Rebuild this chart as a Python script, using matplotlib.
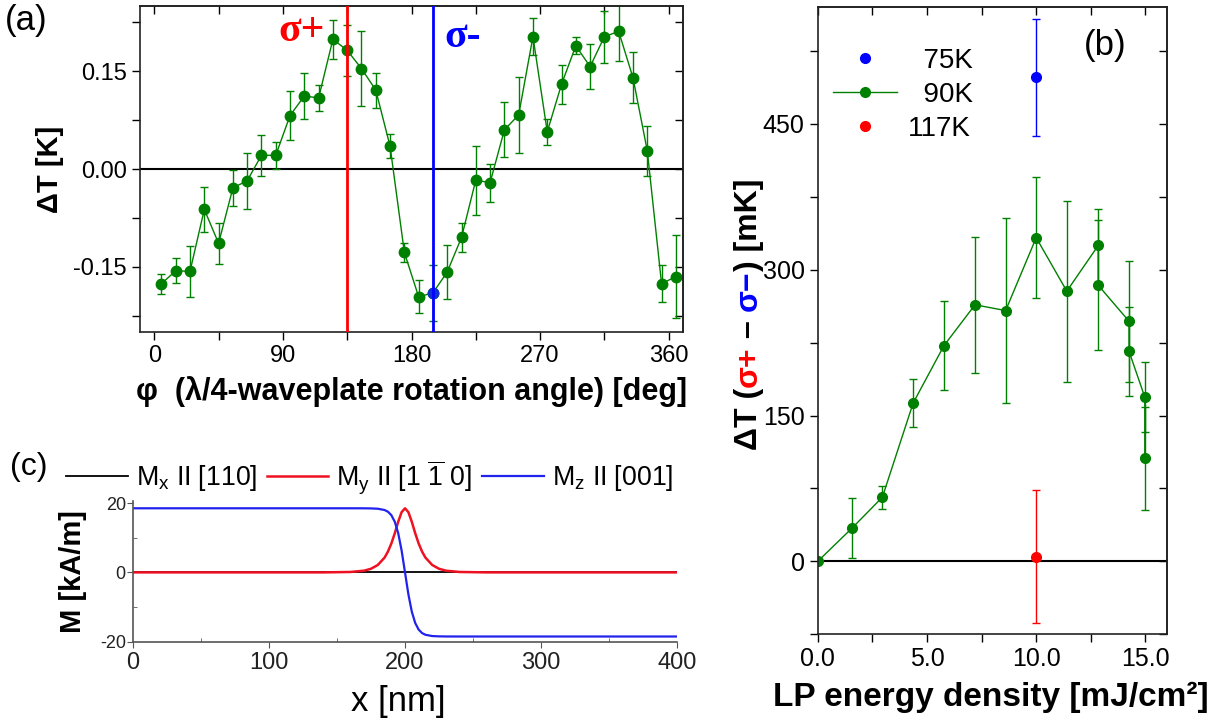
import numpy as np
import matplotlib
matplotlib.use("Agg")
import matplotlib.pyplot as plt
from matplotlib.lines import Line2D
from matplotlib.ticker import MultipleLocator, FormatStrFormatter

plt.rcParams["font.family"] = ["Liberation Sans", "DejaVu Sans"]
plt.rcParams["mathtext.default"] = "regular"
plt.rcParams["axes.unicode_minus"] = False

GREEN = "#008000"

# ---- (a) dT vs waveplate angle ----
a_phi = [5, 15, 25, 35, 45, 55, 65, 75, 85, 95, 105, 115, 125, 135, 145, 155, 165, 175,
         185, 195, 205, 215, 225, 235, 245, 255, 265, 275, 285, 295, 305, 315, 325, 335,
         345, 355, 365]
a_dT = [-0.176, -0.156, -0.157, -0.062, -0.114, -0.029, -0.018, 0.021, 0.021, 0.082,
        0.112, 0.109, 0.199, 0.182, 0.154, 0.121, 0.035, -0.128, -0.196, -0.190, -0.158,
        -0.105, -0.017, -0.021, 0.060, 0.083, 0.203, 0.057, 0.130, 0.189, 0.157, 0.203,
        0.211, 0.140, 0.028, -0.176, -0.165]
a_err = [0.015, 0.019, 0.039, 0.034, 0.031, 0.028, 0.043, 0.031, 0.021, 0.038, 0.035,
         0.020, 0.030, 0.039, 0.058, 0.027, 0.018, 0.014, 0.025, 0.043, 0.041, 0.022,
         0.053, 0.029, 0.042, 0.058, 0.028, 0.020, 0.030, 0.013, 0.034, 0.040, 0.046,
         0.039, 0.038, 0.028, 0.064]
sigma_plus_phi = 135
sigma_minus_phi = 195

# ---- (b) dT(sigma+ - sigma-) vs LP energy density ----
b_E = [0.0, 1.56, 2.96, 4.37, 5.78, 7.2, 8.6, 10.0, 11.4, 12.84, 12.84, 14.25, 14.25, 14.97, 14.97]
b_dT = [0, 34, 66, 163, 222, 264, 258, 333, 278, 325, 284, 247, 216, 169, 106]
b_err = [0, 31, 12, 25, 46, 70, 95, 62, 93, 38, 67, 62, 46, 36, 53]
b75_E, b75_dT, b75_err = [10.0], [498], [60]
b117_E, b117_dT, b117_err = [10.0], [5], [68]

# ---- (c) domain wall profile ----
c_x = [0, 100, 140, 160, 170, 175, 180, 185, 187.5, 190, 192.5, 195, 197.5, 200, 202.5,
       205, 207.5, 210, 212.5, 215, 220, 225, 230, 240, 260, 300, 400]
c_my = [0, 0, 0, 0.12, 0.5, 1.04, 2.13, 4.27, 6.03, 8.36, 11.3, 14.6, 17.37, 18.5, 17.37,
        14.6, 11.3, 8.36, 6.03, 4.27, 2.13, 1.04, 0.5, 0.12, 0, 0, 0]
c_mz = [18.5, 18.5, 18.5, 18.5, 18.49, 18.46, 18.37, 18.0, 17.5, 16.5, 14.6, 11.34, 6.35,
        0, -6.35, -11.34, -14.6, -16.5, -17.5, -18.0, -18.37, -18.46, -18.49, -18.5,
        -18.5, -18.5, -18.5]
c_mx = [0] * len(c_x)

W, H = 1222, 726
fig = plt.figure(figsize=(W / 100, H / 100), dpi=100)

def px_axes(l, t, r, b):
    return fig.add_axes([l / W, 1 - b / H, (r - l) / W, (b - t) / H])

def origin_ticks(ax, size, xmaj, xmin, ymaj, ymin):
    # left/bottom ticks point out, mirrored top/right ticks point in
    ax.set_xticks(xmaj); ax.xaxis.set_minor_locator(MultipleLocator(xmin))
    ax.set_yticks(ymaj); ax.yaxis.set_minor_locator(MultipleLocator(ymin))
    ax.tick_params(which="both", direction="out", length=6, width=1, labelsize=size)
    for sp in ax.spines.values():
        sp.set_linewidth(1.2); sp.set_color("#222222")
    top = ax.secondary_xaxis("top")
    top.set_xticks(xmaj); top.xaxis.set_minor_locator(MultipleLocator(xmin))
    top.tick_params(which="both", direction="in", length=6, width=1, labeltop=False)
    right = ax.secondary_yaxis("right")
    right.set_yticks(ymaj); right.yaxis.set_minor_locator(MultipleLocator(ymin))
    right.tick_params(which="both", direction="in", length=6, width=1, labelright=False)
    for s in (top, right):
        for sp in s.spines.values():
            sp.set_linewidth(1.2); sp.set_color("#222222")

# ======== panel (a) ========
ax = px_axes(140, 6, 683, 332)
ax.axhline(0, color="black", lw=1.5, zorder=1)
ax.errorbar(a_phi, a_dT, yerr=a_err, color=GREEN, marker="o", ms=7.5, lw=1, elinewidth=1,
            capsize=3, capthick=1, zorder=2)
i_b = a_phi.index(sigma_minus_phi)
ax.plot([a_phi[i_b]], [a_dT[i_b]], "o", color="#1030d0", ms=7.5, zorder=2.5)
ax.axvline(sigma_plus_phi, color="red", lw=2, zorder=3)
ax.axvline(sigma_minus_phi, color="blue", lw=2, zorder=3)
ax.set_xlim(-10, 370); ax.set_ylim(-0.25, 0.25)
origin_ticks(ax, 17, [0, 90, 180, 270, 360], 45, [-0.15, 0.0, 0.15], 0.075)
ax.yaxis.set_major_formatter(FormatStrFormatter("%.2f"))
ax.text(sigma_plus_phi - 16, 0.2117, "σ+", color="red", fontsize=30, fontweight="bold",
        family="Liberation Serif", ha="right", va="center")
ax.text(sigma_minus_phi + 8, 0.2017, "σ-", color="blue", fontsize=30, fontweight="bold",
        family="Liberation Serif", ha="left", va="center")
ax.set_ylabel("ΔT [K]", fontsize=21, fontweight="bold", va="center")
ax.yaxis.set_label_coords((50 - 140) / 543, 0.5)
ax.set_xlabel("φ  (λ/4-waveplate rotation angle) [deg]", fontsize=22, fontweight="bold",
              va="center")
ax.xaxis.set_label_coords(0.5, (332 - 392) / 326)

# ======== panel (b) ========
bx = px_axes(817.7, 7.3, 1167.3, 634.3)
bx.axhline(0, color="black", lw=1.5, zorder=1)
bx.errorbar(b_E, b_dT, yerr=b_err, color=GREEN, marker="o", ms=7, lw=1, elinewidth=1,
            capsize=3, capthick=1, zorder=2)
bx.errorbar(b75_E, b75_dT, yerr=b75_err, color="blue", marker="o", ms=7, ls="none",
            elinewidth=1, capsize=3, capthick=1, zorder=2)
bx.errorbar(b117_E, b117_dT, yerr=b117_err, color="red", marker="o", ms=7, ls="none",
            elinewidth=1, capsize=3, capthick=1, zorder=2)
bx.set_xlim(0, 16); bx.set_ylim(-75, 570)
origin_ticks(bx, 18, [0, 5, 10, 15], 2.5, [0, 150, 300, 450], 75)
bx.xaxis.set_major_formatter(FormatStrFormatter("%.1f"))
handles = [Line2D([], [], color="blue", marker="o", ls="none", ms=7),
           Line2D([], [], color=GREEN, marker="o", lw=1, ms=7),
           Line2D([], [], color="red", marker="o", ls="none", ms=7)]
bx.legend(handles, ["  75K", "  90K", "117K"], loc="upper left", frameon=False, fontsize=20,
          bbox_to_anchor=(833 / W, 1 - 48 / H), bbox_transform=fig.transFigure,
          borderpad=0, borderaxespad=0, handlelength=2.3, handletextpad=0.4, labelspacing=0.29)
fig.text(1105 / W, 1 - 45 / H, "(b)", fontsize=25, ha="center", va="center")
bx.set_xlabel("LP energy density [mJ/cm²]", fontsize=24, fontweight="bold", va="center")
bx.xaxis.set_label_coords(0.496, (634.3 - 697) / 627)

# multi-coloured y label for (b)
pieces = [("ΔT (", "black"), ("σ+", "red"), (" – ", "black"), ("σ−", "blue"), (") [mK]", "black")]
lkw = dict(fontsize=23, fontweight="bold")
fig.canvas.draw()
rend = fig.canvas.get_renderer()

def text_w(s):
    t1 = fig.text(0, 0, s + "|", **lkw); w1 = t1.get_window_extent(rend).width; t1.remove()
    t2 = fig.text(0, 0, "|", **lkw); w2 = t2.get_window_extent(rend).width; t2.remove()
    return w1 - w2

full = "".join(p for p, _ in pieces)
total = text_w(full)
y0 = (H - 314) - total / 2
prefix = ""
for s, c in pieces:
    off = text_w(prefix) if prefix else 0
    fig.text(757 / W, (y0 + off) / H, s, color=c, rotation=90, rotation_mode="anchor",
             ha="left", va="baseline", **lkw)
    prefix += s

# ======== panel (c) ========
cx = px_axes(132.7, 501, 677.3, 641.7)
cx.plot(c_x, c_mx, color="black", lw=1.3, label="M$_{x}$ II [110]")
cx.plot(c_x, c_my, color="#ee1122", lw=1.8, label=r"M$_{y}$ II [1 $\overline{1}$ 0]")
cx.plot(c_x, c_mz, color="#2222ee", lw=1.6, label="M$_{z}$ II [001]")
cx.set_xlim(0, 400); cx.set_ylim(-20, 20.6)
cx.set_xticks([0, 100, 200, 300, 400]); cx.xaxis.set_minor_locator(MultipleLocator(50))
cx.set_yticks([-20, 0, 20]); cx.yaxis.set_minor_locator(MultipleLocator(10))
for s in ["top", "right"]:
    cx.spines[s].set_visible(False)
for s in ["left", "bottom"]:
    cx.spines[s].set_color("#555555"); cx.spines[s].set_linewidth(1.2)
cx.tick_params(which="major", direction="out", length=4, color="#555555", labelcolor="#222222")
cx.tick_params(which="minor", direction="in", length=3, color="#555555")
cx.tick_params(axis="x", labelsize=17)
cx.tick_params(axis="y", labelsize=13, pad=1)
cx.legend(loc="center left", bbox_to_anchor=(66 / W, 1 - 477 / H), bbox_transform=fig.transFigure,
          ncol=3, frameon=False, fontsize=19.3, borderpad=0, borderaxespad=0, handlelength=2.3,
          handletextpad=0.3, columnspacing=0.35)
cx.set_xlabel("x [nm]", fontsize=25, va="center")
cx.xaxis.set_label_coords(0.488, (641.7 - 702) / 140.7)
cx.set_ylabel("M [kA/m]", fontsize=21, fontweight="bold", va="center")
cx.yaxis.set_label_coords(-0.11, 0.495)

fig.text(5 / W, 1 - 4 / H, "(a)", fontsize=25, ha="left", va="top")
fig.text(10 / W, 1 - 467 / H, "(c)", fontsize=23, ha="left", va="center")

fig.savefig("out.png", dpi=100)
